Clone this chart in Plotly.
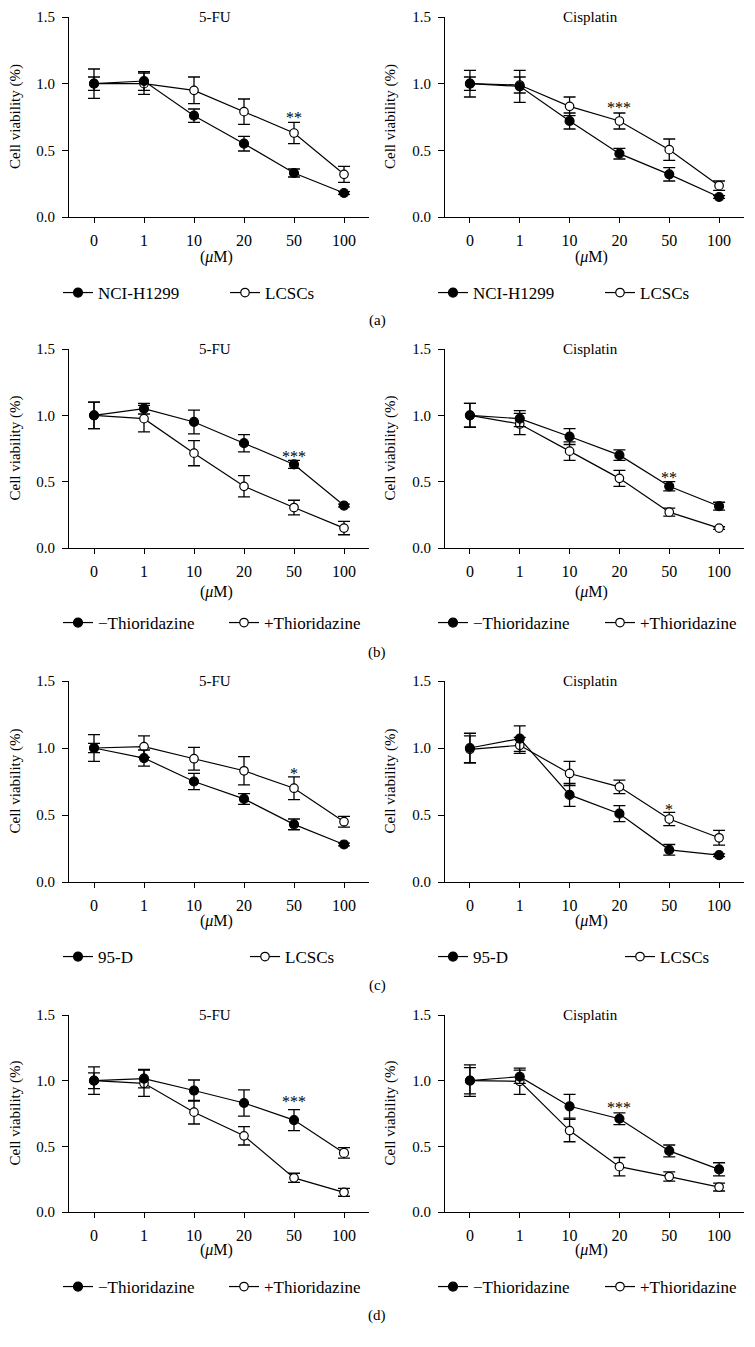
import plotly.graph_objects as go

OFF = 8  # page body margin
W, H = 755 - OFF, 1347 - OFF
FONT = "Liberation Serif"

doses = ["0", "1", "10", "20", "50", "100"]

# ---- (a) NCI-H1299 vs LCSCs ----
a_fu_h1299 = [1.00, 1.02, 0.76, 0.55, 0.33, 0.18]
a_fu_h1299_err = [0.05, 0.07, 0.05, 0.055, 0.03, 0.01]
a_fu_lcsc = [1.00, 1.00, 0.95, 0.79, 0.63, 0.32]
a_fu_lcsc_err = [0.11, 0.08, 0.10, 0.095, 0.08, 0.06]
a_cis_h1299 = [1.00, 0.98, 0.72, 0.475, 0.32, 0.15]
a_cis_h1299_err = [0.10, 0.12, 0.06, 0.04, 0.05, 0.01]
a_cis_lcsc = [1.00, 0.99, 0.83, 0.72, 0.505, 0.235]
a_cis_lcsc_err = [0.05, 0.06, 0.07, 0.06, 0.08, 0.035]

# ---- (b) -/+ Thioridazine ----
b_fu_minus = [1.00, 1.05, 0.95, 0.79, 0.63, 0.32]
b_fu_minus_err = [0.10, 0.04, 0.09, 0.065, 0.03, 0.01]
b_fu_plus = [1.00, 0.975, 0.715, 0.465, 0.305, 0.15]
b_fu_plus_err = [0.10, 0.10, 0.095, 0.08, 0.055, 0.05]
b_cis_minus = [1.00, 0.975, 0.84, 0.70, 0.465, 0.315]
b_cis_minus_err = [0.09, 0.06, 0.06, 0.04, 0.035, 0.03]
b_cis_plus = [1.00, 0.935, 0.73, 0.525, 0.27, 0.15]
b_cis_plus_err = [0.09, 0.08, 0.07, 0.06, 0.03, 0.01]

# ---- (c) 95-D vs LCSCs ----
c_fu_95d = [1.00, 0.925, 0.75, 0.62, 0.43, 0.28]
c_fu_95d_err = [0.035, 0.06, 0.06, 0.04, 0.04, 0.01]
c_fu_lcsc = [1.00, 1.01, 0.92, 0.83, 0.70, 0.45]
c_fu_lcsc_err = [0.10, 0.08, 0.085, 0.105, 0.085, 0.04]
c_cis_95d = [1.00, 1.07, 0.65, 0.51, 0.24, 0.20]
c_cis_95d_err = [0.11, 0.095, 0.085, 0.06, 0.04, 0.01]
c_cis_lcsc = [0.99, 1.02, 0.81, 0.71, 0.47, 0.33]
c_cis_lcsc_err = [0.10, 0.06, 0.09, 0.05, 0.05, 0.055]

# ---- (d) -/+ Thioridazine ----
d_fu_minus = [1.00, 1.015, 0.925, 0.83, 0.70, 0.45]
d_fu_minus_err = [0.06, 0.07, 0.08, 0.10, 0.08, 0.04]
d_fu_plus = [1.00, 0.98, 0.76, 0.58, 0.26, 0.15]
d_fu_plus_err = [0.105, 0.10, 0.09, 0.07, 0.035, 0.03]
d_cis_minus = [1.00, 1.03, 0.805, 0.71, 0.465, 0.325]
d_cis_minus_err = [0.12, 0.05, 0.09, 0.045, 0.045, 0.05]
d_cis_plus = [1.00, 0.995, 0.62, 0.345, 0.27, 0.19]
d_cis_plus_err = [0.10, 0.10, 0.085, 0.07, 0.035, 0.03]

titles = ["5-FU", "Cisplatin"]
panel_labels = ["(a)", "(b)", "(c)", "(d)"]

panels = [
    # (row, col, name1, y1, e1, name2, y2, e2, sig_text, sig_dose, sig_y)
    (0, 0, "NCI-H1299", a_fu_h1299, a_fu_h1299_err, "LCSCs", a_fu_lcsc, a_fu_lcsc_err, "**", "50", 0.75),
    (0, 1, "NCI-H1299", a_cis_h1299, a_cis_h1299_err, "LCSCs", a_cis_lcsc, a_cis_lcsc_err, "***", "20", 0.825),
    (1, 0, "\u2212Thioridazine", b_fu_minus, b_fu_minus_err, "+Thioridazine", b_fu_plus, b_fu_plus_err, "***", "50", 0.69),
    (1, 1, "\u2212Thioridazine", b_cis_minus, b_cis_minus_err, "+Thioridazine", b_cis_plus, b_cis_plus_err, "**", "50", 0.53),
    (2, 0, "95-D", c_fu_95d, c_fu_95d_err, "LCSCs", c_fu_lcsc, c_fu_lcsc_err, "*", "50", 0.81),
    (2, 1, "95-D", c_cis_95d, c_cis_95d_err, "LCSCs", c_cis_lcsc, c_cis_lcsc_err, "*", "50", 0.54),
    (3, 0, "\u2212Thioridazine", d_fu_minus, d_fu_minus_err, "+Thioridazine", d_fu_plus, d_fu_plus_err, "***", "50", 0.845),
    (3, 1, "\u2212Thioridazine", d_cis_minus, d_cis_minus_err, "+Thioridazine", d_cis_plus, d_cis_plus_err, "***", "20", 0.795),
]

# layout geometry (pixels in the page)
col_x = [(69, 369), (445, 744)]
row_y = [(17, 217), (349, 548), (681, 882), (1015, 1212)]
legend_y = [293, 623, 957, 1287]
unit_y = [257, 592, 921, 1250]
label_y = [320, 652, 985, 1315]
legend_x0 = [63, 438]
legend_spacing = [[167, 167], [166, 167], [187, 187], [166, 167]]
ytitle_x = [15, 390]

def px(x):
    return (x - OFF) / W

def py(y):
    return 1 - (y - OFF) / H

fig = go.Figure()
layout = dict(
    width=W, height=H,
    margin=dict(l=0, r=0, t=0, b=0, autoexpand=False),
    paper_bgcolor="white", plot_bgcolor="white",
    font=dict(family=FONT, size=15, color="black"),
    annotations=[],
)

# last filled marker in (d) 5-FU appears open in the original
d_fu_minus_fill = ["black"] * 5 + ["white"]

for i, (r, c, n1, y1, e1, n2, y2, e2, sig, sdose, sy) in enumerate(panels):
    k = i + 1
    xa = "x" if k == 1 else f"x{k}"
    ya = "y" if k == 1 else f"y{k}"
    leg = "legend" if k == 1 else f"legend{k}"
    fill1 = d_fu_minus_fill if (r == 3 and c == 0) else "black"
    sp = legend_spacing[r][c]
    for name, yv, ev, filled in [(n2, y2, e2, False), (n1, y1, e1, True)]:
        fig.add_trace(go.Scatter(
            x=doses, y=yv, name=name, xaxis=xa, yaxis=ya, legend=leg,
            mode="lines+markers",
            line=dict(color="black", width=1.2),
            marker=dict(symbol="circle", size=9 if filled else 8.5,
                        color=fill1 if filled else "white",
                        line=dict(color="black", width=1.2)),
            error_y=dict(type="data", array=ev, visible=True,
                         color="black", thickness=1.3, width=6),
            cliponaxis=False,
            legendrank=1 if filled else 2,
            legendwidth=(sp - 45) if filled else 105,
        ))
    x0, x1 = col_x[c]
    y0, y1p = row_y[r]
    layout["xaxis" if k == 1 else f"xaxis{k}"] = dict(
        domain=[px(x0), px(x1)], anchor=ya,
        type="category", categoryorder="array", categoryarray=doses,
        range=[-0.5, 5.5], automargin=False,
        showline=True, linecolor="black", linewidth=1.2,
        ticks="outside", ticklen=5, tickwidth=1.2, tickcolor="black",
        ticklabelstandoff=4,
        showgrid=False, zeroline=False, fixedrange=True,
        tickfont=dict(family=FONT, size=16),
    )
    layout["yaxis" if k == 1 else f"yaxis{k}"] = dict(
        domain=[py(y1p), py(y0)], anchor=xa,
        range=[0, 1.5], tickvals=[0, 0.5, 1.0, 1.5],
        ticktext=["0.0", "0.5", "1.0", "1.5"], automargin=False,
        showline=True, linecolor="black", linewidth=1.2,
        ticks="outside", ticklen=6, tickwidth=1.2, tickcolor="black",
        ticklabelstandoff=4,
        showgrid=False, zeroline=False, fixedrange=True,
        tickfont=dict(family=FONT, size=15),
    )
    layout[leg] = dict(
        orientation="h", x=px(legend_x0[c] - 5), xanchor="left",
        y=py(legend_y[r]), yanchor="middle",
        bgcolor="rgba(0,0,0,0)", borderwidth=0,
        font=dict(family=FONT, size=17),
        traceorder="normal",
    )
    # subplot title
    layout["annotations"].append(dict(
        text=titles[c], xref="paper", yref="paper",
        x=px((x0 + x1) / 2 - 4), y=py(y0), xanchor="center", yanchor="middle",
        showarrow=False, font=dict(family=FONT, size=15)))
    # y title
    layout["annotations"].append(dict(
        text="Cell viability (%)", xref="paper", yref="paper",
        x=px(ytitle_x[c]), y=py((y0 + y1p) / 2), textangle=-90,
        xanchor="center", yanchor="middle",
        showarrow=False, font=dict(family=FONT, size=15)))
    # x unit
    layout["annotations"].append(dict(
        text="(<i>\u03bc</i>M)", xref="paper", yref="paper",
        x=px((x0 + x1) / 2 - 3), y=py(unit_y[r]), xanchor="center", yanchor="middle",
        showarrow=False, font=dict(family=FONT, size=16)))
    # significance
    layout["annotations"].append(dict(
        text=sig, xref=xa, yref=ya, x=doses.index(sdose), y=sy,
        xanchor="center", yanchor="middle",
        showarrow=False, font=dict(family=FONT, size=16, color="black")))

for r in range(4):
    layout["annotations"].append(dict(
        text=panel_labels[r], xref="paper", yref="paper",
        x=px(377), y=py(label_y[r]), xanchor="center", yanchor="middle",
        showarrow=False, font=dict(family=FONT, size=15)))

fig.update_layout(**layout)
fig.write_html("out.html")
